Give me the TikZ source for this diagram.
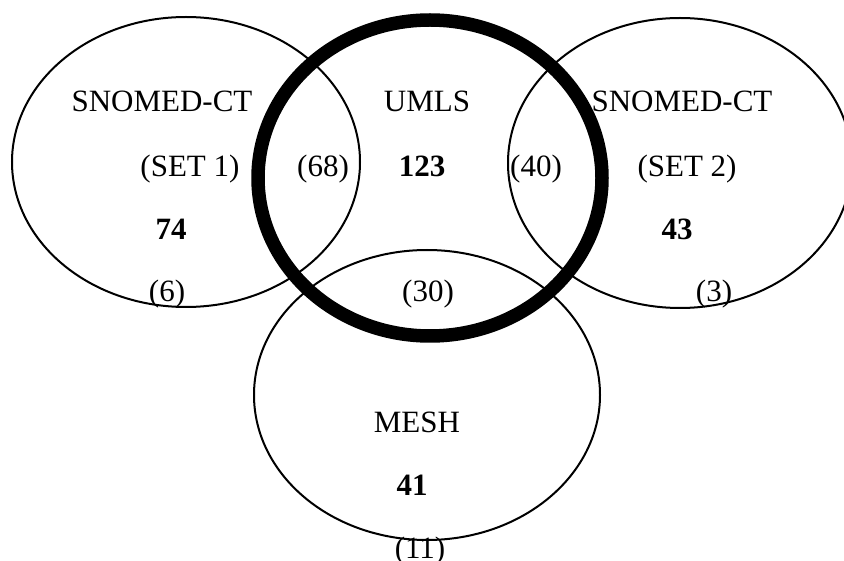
\documentclass[tikz,border=0pt]{standalone}
\usepackage{fontspec}
\setmainfont{Liberation Serif}
\begin{document}
\begin{tikzpicture}[x=1pt,y=-1pt,
  lbl/.style={anchor=base,inner sep=0pt,font=\fontsize{31}{36}\selectfont},
  num/.style={lbl,font=\fontsize{31}{36}\selectfont\bfseries},
  thin/.style={line width=2pt},
  thick ring/.style={line width=13.5pt}]
\useasboundingbox (0,0) rectangle (844,561);
\clip (0,0) rectangle (844,561);
% sets
\draw[thin] (186,162) ellipse [x radius=174, y radius=145];
\draw[thin] (680,163) ellipse [x radius=172, y radius=145];
\draw[thin] (427,395) ellipse [x radius=173, y radius=145];
\draw[thick ring] (430,178) ellipse [x radius=172, y radius=158];
% labels
\node[lbl] (snoA) at (162,112) {SNOMED-CT};
\node[lbl] (umls) at (427,112) {UMLS};
\node[lbl] (snoB) at (682,112) {SNOMED-CT};
\node[lbl] (set1) at (190,177) {(SET 1)};
\node[lbl] (i68) at (323,177) {(68)};
\node[num] (n123) at (422,177) {123};
\node[lbl] (i40) at (536,177) {(40)};
\node[lbl] (set2) at (687,177) {(SET 2)};
\node[num] (n74) at (171,240) {74};
\node[num] (n43) at (677,240) {43};
\node[lbl] (i6) at (167,302) {(6)};
\node[lbl] (i30) at (428,302) {(30)};
\node[lbl] (i3) at (714,302) {(3)};
\node[lbl] (mesh) at (417,432) {MESH};
\node[num] (n41) at (412,495) {41};
\node[lbl] (i11) at (420,558) {(11)};
\end{tikzpicture}
\end{document}
